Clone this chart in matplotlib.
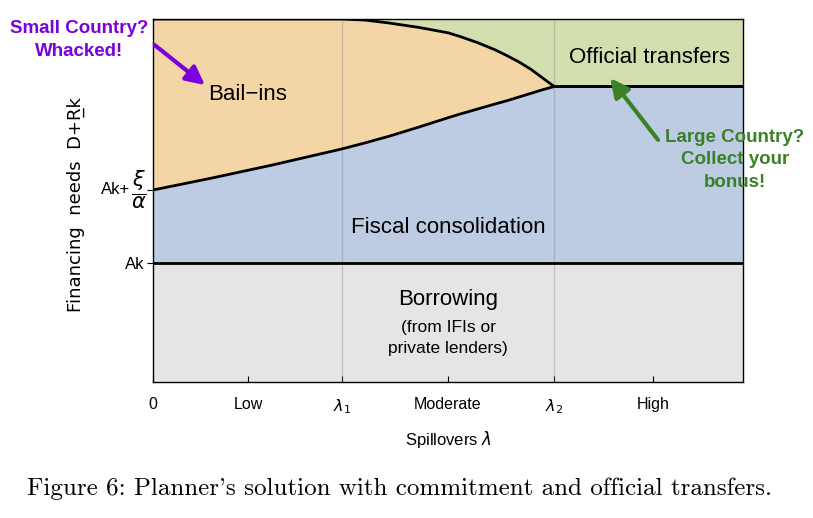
import numpy as np
import matplotlib
matplotlib.use("Agg")
import matplotlib.pyplot as plt
import matplotlib.transforms as mtransforms

plt.rcParams['font.family'] = ['Liberation Sans', 'DejaVu Sans']
plt.rcParams['mathtext.fontset'] = 'dejavusans'

# spillover grid (0 .. 1) and boundaries
lam = [0, 0.1, 0.2, 0.32, 0.36, 0.4, 0.45, 0.5, 0.52, 0.55, 0.58, 0.6, 0.62, 0.64, 0.66, 0.68, 1.0]
upper = [1, 1, 1, 1, 0.997, 0.989, 0.977, 0.962, 0.952, 0.935, 0.915, 0.899, 0.882, 0.862, 0.838, 0.814, 0.814]
lower = [0.529, 0.562, 0.597, 0.642, 0.659, 0.677, 0.702, 0.728, 0.738, 0.752, 0.766, 0.775, 0.785, 0.795, 0.805, 0.814, 0.814]
ak = 0.328
lam1, lam2 = 0.32, 0.68

xticks = [0, 0.161, lam1, 0.5, lam2, 0.847]
xlabels = ["0", "Low", r"$\lambda_1$", "Moderate", r"$\lambda_2$", "High"]
yticks = [ak, lower[0]]
ylabels = ["Ak", ""]

fig = plt.figure(figsize=(8.13, 5.18), dpi=100)
ax = fig.add_axes([0.1882, 0.2625, 0.7257, 0.7008])

lam_a = np.array(lam)
up_a = np.array(upper)
lo_a = np.array(lower)

ax.fill_between([0, 1], 0, ak, color="#E5E5E5", lw=0)
ax.fill_between(lam_a, ak, lo_a, color="#BDCCE2", lw=0)
ax.fill_between(lam_a, lo_a, up_a, color="#F4D6A6", lw=0)
ax.fill_between(lam_a, up_a, 1, color="#D3DEAF", lw=0)

ax.axvline(lam1, color="gray", lw=1, alpha=0.35)
ax.axvline(lam2, color="gray", lw=1, alpha=0.35)

ax.plot([0, 1], [ak, ak], color="black", lw=2)
ax.plot(lam_a, lo_a, color="black", lw=2)
ax.plot(lam_a, up_a, color="black", lw=2)

ax.set_xlim(0, 1)
ax.set_ylim(0, 1)
ax.set_xticks(xticks)
ax.set_xticklabels(xlabels, fontsize=11.5)
ax.set_yticks(yticks)
ax.set_yticklabels(ylabels, fontsize=12)
ax.tick_params(axis="x", direction="in", length=4, pad=11)
ax.tick_params(axis="y", direction="out", length=4, pad=2)
for s in ax.spines.values():
    s.set_linewidth(1)

# Ak + xi/alpha tick label, written out by hand so the fraction is full size
trans = mtransforms.blended_transform_factory(ax.transAxes, ax.transData)
ax.text(-0.039, lower[0], "Ak+", fontsize=12, ha="right", va="center", transform=trans)
ax.text(-0.0237, lower[0], r"$\dfrac{\xi}{\alpha}$", fontsize=15, ha="center", va="center",
        transform=trans)

ax.set_xlabel(r"Spillovers $\lambda$", fontsize=12, labelpad=9)
# DejaVu has a zero-width combining low line, so R gets underlined properly
ax.set_ylabel("Financing  needs  D+R\u0332k", fontsize=13, family="DejaVu Sans")
ax.yaxis.set_label_coords(-0.116, 0.49)

# region labels
ax.text(0.093, 0.791, "Bail\u2212ins", fontsize=16, va="center", ha="left")
ax.text(0.841, 0.895, "Official transfers", fontsize=16, va="center", ha="center")
ax.text(0.5, 0.427, "Fiscal consolidation", fontsize=16, va="center", ha="center")
ax.text(0.5, 0.226, "Borrowing", fontsize=16, va="center", ha="center")
ax.text(0.5, 0.121, "(from IFIs or\nprivate lenders)", fontsize=12.5, va="center",
        ha="center", linespacing=1.5)

# callouts
ax.annotate("", xy=(0.088, 0.818), xytext=(0.003, 0.928),
            arrowprops=dict(arrowstyle="-|>", color="#7A00DD", lw=3, mutation_scale=28,
                            shrinkA=0, shrinkB=0), annotation_clip=False)
ax.text(-0.125, 0.942, "Small Country?\nWhacked!", fontsize=13.5, fontweight="bold",
        color="#7A00DD", ha="center", va="center", linespacing=1.4)

ax.annotate("", xy=(0.775, 0.837), xytext=(0.856, 0.667),
            arrowprops=dict(arrowstyle="-|>", color="#3C8027", lw=3, mutation_scale=28,
                            shrinkA=0, shrinkB=0), annotation_clip=False)
ax.text(0.986, 0.612, "Large Country?\nCollect your\nbonus!", fontsize=13.5,
        fontweight="bold", color="#3C8027", ha="center", va="center", linespacing=1.45,
        clip_on=False)

fig.text(0.492, 0.056, "Figure 6: Planner's solution with commitment and official transfers.",
         fontsize=18, family=["cmr10", "DejaVu Serif"], ha="center", va="center")

fig.savefig("out.png", dpi=100)
